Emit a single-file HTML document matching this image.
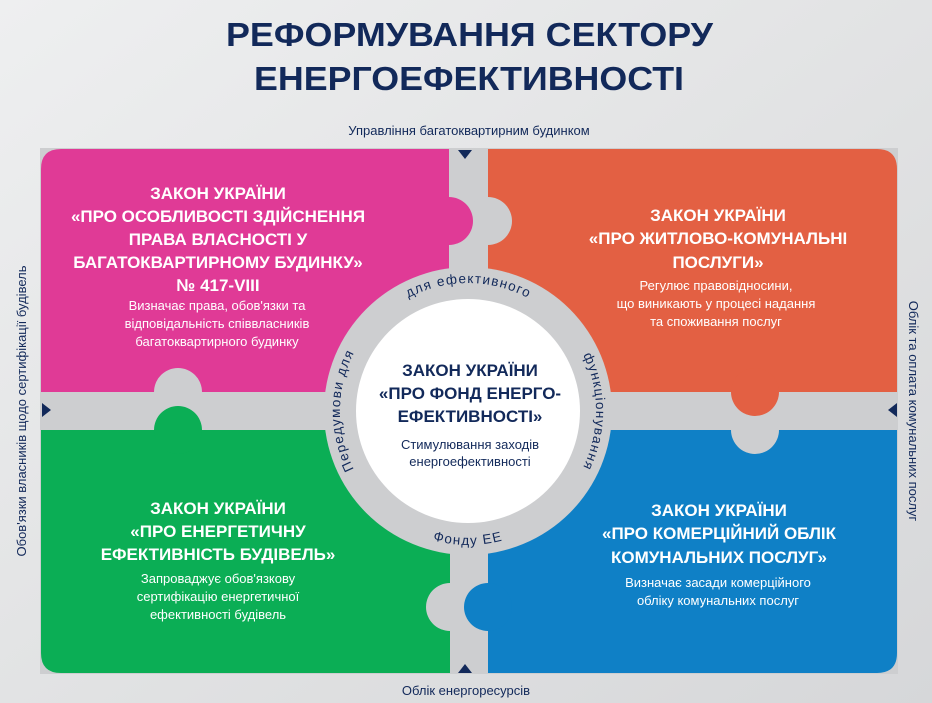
<!DOCTYPE html>
<html><head><meta charset="utf-8"><style>
html,body{margin:0;padding:0;width:932px;height:703px;overflow:hidden}
svg{display:block}
text{font-family:"Liberation Sans",sans-serif}
</style></head><body>
<svg width="932" height="703" viewBox="0 0 932 703" xmlns="http://www.w3.org/2000/svg">
<defs>
<linearGradient id="bg" x1="0" y1="0" x2="1" y2="1">
<stop offset="0" stop-color="#eeeff0"/><stop offset="0.5" stop-color="#e2e3e4"/><stop offset="1" stop-color="#d6d7d9"/>
</linearGradient>
<path id="cw" d="M 385.7 509.1 A 128 128 0 1 1 550.3 509.1"/>
<path id="ccw" d="M 352 478 A 134 134 0 0 0 584 478"/>
</defs>
<rect width="932" height="703" fill="url(#bg)"/>
<rect x="40" y="148" width="858" height="526" fill="#cdced0"/>
<g font-weight="bold" fill="#12295a" font-size="33">
<text x="226" y="46" textLength="487" lengthAdjust="spacingAndGlyphs">РЕФОРМУВАННЯ СЕКТОРУ</text>
<text x="254" y="90" textLength="430" lengthAdjust="spacingAndGlyphs">ЕНЕРГОЕФЕКТИВНОСТІ</text>
</g>
<!-- quadrants -->
<path d="M61 149 H449 V392 H41 V169 Q41 149 61 149Z" fill="#e03a96"/>
<path d="M488 149 H877 Q897 149 897 169 V392 H488Z" fill="#e36043"/>
<path d="M41 430 H450 V673 H61 Q41 673 41 653Z" fill="#0bae55"/>
<path d="M488 430 H897 V653 Q897 673 877 673 H488Z" fill="#0f80c6"/>
<!-- notches -->
<circle cx="488" cy="221" r="24" fill="#cdced0"/>
<circle cx="178" cy="392" r="24" fill="#cdced0"/>
<circle cx="755" cy="430" r="24" fill="#cdced0"/>
<circle cx="450" cy="607" r="24" fill="#cdced0"/>
<!-- knobs -->
<circle cx="449" cy="221" r="24" fill="#e03a96"/>
<circle cx="178" cy="430" r="24" fill="#0bae55"/>
<circle cx="755" cy="392" r="24" fill="#e36043"/>
<circle cx="488" cy="607" r="24" fill="#0f80c6"/>
<!-- center -->
<circle cx="468" cy="411" r="144" fill="#cdced0"/>
<circle cx="468" cy="411" r="112" fill="#ffffff"/>
<g font-size="13.5" fill="#12295a" letter-spacing="1.2">
<text text-anchor="middle"><textPath href="#cw" startOffset="112">Передумови для</textPath></text>
<text text-anchor="middle"><textPath href="#cw" startOffset="313">для ефективного</textPath></text>
<text text-anchor="middle"><textPath href="#cw" startOffset="514">функціонування</textPath></text>
<text text-anchor="middle"><textPath href="#ccw" startOffset="50%">Фонду ЕЕ</textPath></text>
</g>
<g text-anchor="middle" fill="#12295a">
<g font-weight="bold" font-size="17">
<text x="470" y="376">ЗАКОН УКРАЇНИ</text>
<text x="470" y="399">«ПРО ФОНД ЕНЕРГО-</text>
<text x="470" y="422">ЕФЕКТИВНОСТІ»</text>
</g>
<g font-size="13">
<text x="470" y="449">Стимулювання заходів</text>
<text x="470" y="466">енергоефективності</text>
</g>
</g>
<!-- quadrant text -->
<g text-anchor="middle" fill="#fff">
<g font-weight="bold" font-size="17">
<text x="218" y="199">ЗАКОН УКРАЇНИ</text>
<text x="218" y="222">«ПРО ОСОБЛИВОСТІ ЗДІЙСНЕННЯ</text>
<text x="218" y="245">ПРАВА ВЛАСНОСТІ У</text>
<text x="218" y="268">БАГАТОКВАРТИРНОМУ БУДИНКУ»</text>
<text x="218" y="291">№ 417-VIII</text>
<text x="718" y="221">ЗАКОН УКРАЇНИ</text>
<text x="718" y="244">«ПРО ЖИТЛОВО-КОМУНАЛЬНІ</text>
<text x="718" y="268">ПОСЛУГИ»</text>
<text x="218" y="514">ЗАКОН УКРАЇНИ</text>
<text x="218" y="537">«ПРО ЕНЕРГЕТИЧНУ</text>
<text x="218" y="560">ЕФЕКТИВНІСТЬ БУДІВЕЛЬ»</text>
<text x="719" y="516">ЗАКОН УКРАЇНИ</text>
<text x="719" y="539">«ПРО КОМЕРЦІЙНИЙ ОБЛІК</text>
<text x="719" y="563">КОМУНАЛЬНИХ ПОСЛУГ»</text>
</g>
<g font-size="13">
<text x="217" y="310">Визначає права, обов'язки та</text>
<text x="217" y="328">відповідальність співвласників</text>
<text x="217" y="346">багатоквартирного будинку</text>
<text x="716" y="290">Регулює правовідносини,</text>
<text x="716" y="308">що виникають у процесі надання</text>
<text x="716" y="326">та споживання послуг</text>
<text x="218" y="583">Запроваджує обов'язкову</text>
<text x="218" y="601">сертифікацію енергетичної</text>
<text x="218" y="619">ефективності будівель</text>
<text x="718" y="587">Визначає засади комерційного</text>
<text x="718" y="605">обліку комунальних  послуг</text>
</g>
</g>
<!-- arrows -->
<g fill="#12295a">
<polygon points="458,150 472,150 465,159"/>
<polygon points="458,673 472,673 465,664"/>
<polygon points="42,403 42,417 51,410"/>
<polygon points="897,403 897,417 888,410"/>
</g>
<!-- side labels -->
<g font-size="13" fill="#12295a" text-anchor="middle">
<text x="469" y="135">Управління багатоквартирним будинком</text>
<text x="466" y="695">Облік енергоресурсів</text>
<text transform="translate(26 411) rotate(-90)">Обов'язки власників щодо сертифікації будівель</text>
<text transform="translate(909 411) rotate(90)">Облік та оплата комунальних послуг</text>
</g>
</svg>
</body></html>
